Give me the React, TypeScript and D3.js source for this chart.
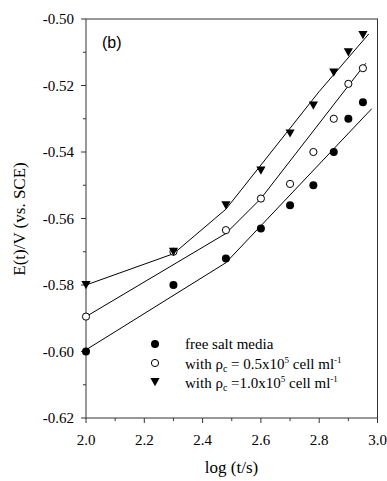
import React from "react";
import * as d3 from "d3";

// Data
const logT = [2.0, 2.3, 2.48, 2.6, 2.7, 2.78, 2.85, 2.9, 2.95];
const freeSalt = [-0.6, -0.58, -0.572, -0.563, -0.556, -0.55, -0.54, -0.53, -0.525];
const rho05 = [-0.5895, -0.57, -0.5635, -0.554, -0.5496, -0.54, -0.53, -0.5195, -0.5148];
const rho10 = [-0.58, -0.57, -0.556, -0.5456, -0.5344, -0.526, -0.5161, -0.51, -0.5048];

// Fitted lines (piecewise)
const fitFreeX = [2.0, 2.48, 2.98];
const fitFreeY = [-0.5995, -0.5733, -0.527];
const fit05X = [2.0, 2.48, 2.6, 2.96];
const fit05Y = [-0.5895, -0.5645, -0.554, -0.5133];
const fit10X = [2.0, 2.3, 2.48, 2.8, 2.97];
const fit10Y = [-0.58, -0.5706, -0.5572, -0.5218, -0.5045];

const yTicks = [-0.62, -0.6, -0.58, -0.56, -0.54, -0.52, -0.5];
const yMinor = [-0.61, -0.59, -0.57, -0.55, -0.53, -0.51];
const xTicks = [2.0, 2.2, 2.4, 2.6, 2.8, 3.0];
const xMinor = [2.1, 2.3, 2.5, 2.7, 2.9];

const serif = "'Liberation Serif', 'Times New Roman', serif";
const sans = "'Liberation Sans', Arial, sans-serif";

const fmtY = (v: number) => d3.format(".2f")(v).replace("\u2212", "-");

export default function App() {
  const x = d3.scaleLinear().domain([2, 3]).range([86, 377.5]);
  const y = d3.scaleLinear().domain([-0.62, -0.5]).range([418, 19]);
  const line = d3
    .line<[number, number]>()
    .x((d) => x(d[0]))
    .y((d) => y(d[1]));
  const pts = (xs: number[], ys: number[]) => xs.map((v, i) => [v, ys[i]] as [number, number]);
  const tri = (cx: number, cy: number) => {
    const w = 4.6;
    return `M${cx - w},${cy - 4} L${cx + w},${cy - 4} L${cx},${cy + 4.2} Z`;
  };
  const axisColor = "#333";
  const [x0, x1] = x.range();
  const [y0, y1] = y.range();

  return (
    <svg width={387} height={481} style={{ position: "absolute", left: 0, top: 0, background: "#fff" }}>
      {/* fitted lines */}
      <path d={line(pts(fitFreeX, fitFreeY)) || ""} fill="none" stroke="#000" strokeWidth={1} />
      <path d={line(pts(fit05X, fit05Y)) || ""} fill="none" stroke="#000" strokeWidth={1} />
      <path d={line(pts(fit10X, fit10Y)) || ""} fill="none" stroke="#000" strokeWidth={1} />

      {/* frame */}
      <rect x={x0} y={y1} width={x1 - x0} height={y0 - y1} fill="none" stroke={axisColor} strokeWidth={1} />

      {/* y ticks */}
      {yTicks.map((t) => (
        <g key={"y" + t}>
          <line x1={x0 - 5} x2={x0} y1={y(t)} y2={y(t)} stroke={axisColor} />
          <text x={74} y={y(t)} dy="0.35em" textAnchor="end" fontFamily={serif} fontSize={15}>
            {fmtY(t)}
          </text>
        </g>
      ))}
      {yMinor.map((t) => (
        <line key={"ym" + t} x1={x0 - 3} x2={x0} y1={y(t)} y2={y(t)} stroke={axisColor} />
      ))}
      {/* x ticks */}
      {xTicks.map((t) => (
        <g key={"x" + t}>
          <line x1={x(t)} x2={x(t)} y1={y0} y2={y0 + 5} stroke={axisColor} />
          <text x={x(t)} y={445} textAnchor="middle" fontFamily={serif} fontSize={15}>
            {d3.format(".1f")(t)}
          </text>
        </g>
      ))}
      {xMinor.map((t) => (
        <line key={"xm" + t} x1={x(t)} x2={x(t)} y1={y0} y2={y0 + 3} stroke={axisColor} />
      ))}

      {/* axis titles */}
      <text x={231.5} y={473} textAnchor="middle" fontFamily={serif} fontSize={17}>
        log (t/s)
      </text>
      <text transform="translate(25,219) rotate(-90)" textAnchor="middle" fontFamily={serif} fontSize={17}>
        E(t)/V (vs. SCE)
      </text>
      <text x={102} y={48} fontFamily={sans} fontSize={16}>
        (b)
      </text>

      {/* markers */}
      {logT.map((t, i) => (
        <circle key={"f" + i} cx={x(t)} cy={y(freeSalt[i])} r={4} fill="#000" />
      ))}
      {logT.map((t, i) => (
        <circle key={"o" + i} cx={x(t)} cy={y(rho05[i])} r={3.6} fill="#fff" stroke="#000" strokeWidth={1} />
      ))}
      {logT.map((t, i) => (
        <path key={"t" + i} d={tri(x(t), y(rho10[i]))} fill="#000" />
      ))}

      {/* legend */}
      <circle cx={155} cy={344} r={4} fill="#000" />
      <text x={185} y={349} fontFamily={serif} fontSize={15}>
        free salt media
      </text>
      <circle cx={155} cy={363} r={3.6} fill="#fff" stroke="#000" />
      <text x={185} y={368.5} fontFamily={serif} fontSize={15}>
        with ρ
        <tspan fontSize={10} dy={3}>c</tspan>
        <tspan dy={-3}> = 0.5x10</tspan>
        <tspan fontSize={9} dy={-6}>5</tspan>
        <tspan dy={6}> cell ml</tspan>
        <tspan fontSize={9} dy={-6}>-1</tspan>
      </text>
      <path d={tri(155, 382)} fill="#000" />
      <text x={185} y={388} fontFamily={serif} fontSize={15}>
        with ρ
        <tspan fontSize={10} dy={3}>c</tspan>
        <tspan dy={-3}> =1.0x10</tspan>
        <tspan fontSize={9} dy={-6}>5</tspan>
        <tspan dy={6}> cell ml</tspan>
        <tspan fontSize={9} dy={-6}>-1</tspan>
      </text>
    </svg>
  );
}
